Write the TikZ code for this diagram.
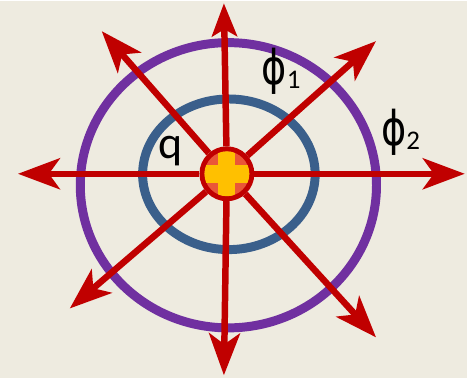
\documentclass[tikz,border=0pt]{standalone}
\usepackage{fontspec}
\setmainfont{Carlito}
\newfontfamily\phifont{DejaVu Sans}
\usetikzlibrary{arrows.meta,backgrounds}
\definecolor{bgPaper}{HTML}{EEEBE0}
\definecolor{fieldRed}{HTML}{C00000}
\definecolor{shellBlue}{HTML}{3A5F8B}
\definecolor{shellPurple}{HTML}{7030A0}
\definecolor{chargeOrange}{HTML}{EA5638}
\definecolor{chargeYellow}{HTML}{FFC000}
\newcommand{\fluxlabel}[1]{%
  \scalebox{0.8}[1]{\fontsize{48}{48}\phifont ϕ}%
  \raisebox{-4pt}{\fontsize{27}{27}\selectfont #1}%
}

\begin{document}
\begin{tikzpicture}[x=1pt,y=-1pt,
          every node/.style={font=\fontsize{46}{46}\selectfont,
                             text=black,inner sep=0pt},
          field/.style={draw=fieldRed,line width=6.5pt,
                        -{Stealth[length=42pt,width=31pt,inset=11pt]}},
          fieldshort/.style={field,
                        -{Stealth[length=33pt,width=25pt,inset=7pt]}},
          shell/.style={line width=9pt},
          charge/.style={circle,draw=fieldRed,line width=5pt,
                         fill=chargeOrange,minimum size=50pt},
        ]
        \node[charge] (chg) at (227.5,173) {};
        \begin{scope}
          \clip (chg.center) circle (22.5);
          \fill[chargeYellow] (219,140) rectangle (236,206);
          \fill[chargeYellow] (194,164) rectangle (261,182);
        \end{scope}
        \node[anchor=base] (lq) at (171,158) {q};
        \node[anchor=base west] (lphi1) at (262,83) {\fluxlabel{1}};
        \node[anchor=base west] (lphi2) at (382,145) {\fluxlabel{2}};
        \coordinate (tN) at (224.5,2);
        \coordinate (tS) at (224.5,375);
        \coordinate (tW) at (18,173);
        \coordinate (tE) at (466,173);
        \coordinate (tNW) at (102,30);
        \coordinate (tNE) at (377,40);
        \coordinate (tSW) at (70,308);
        \coordinate (tSE) at (377,337);
        \begin{scope}[on background layer]
          \fill[bgPaper] (0,0) rectangle (468,378);
          \draw[shell,shellPurple] (229,184.5) ellipse [x radius=148.5,y radius=143];
          \draw[shell,shellBlue] (229.5,173.5) ellipse [x radius=86.5,y radius=75.5];
          \draw[fieldshort] (chg) -- (tN);
          \foreach \t in {tS,tW,tE,tNW,tNE,tSW,tSE}
            \draw[field] (chg) -- (\t);
        \end{scope}
      \end{tikzpicture}
\end{document}
